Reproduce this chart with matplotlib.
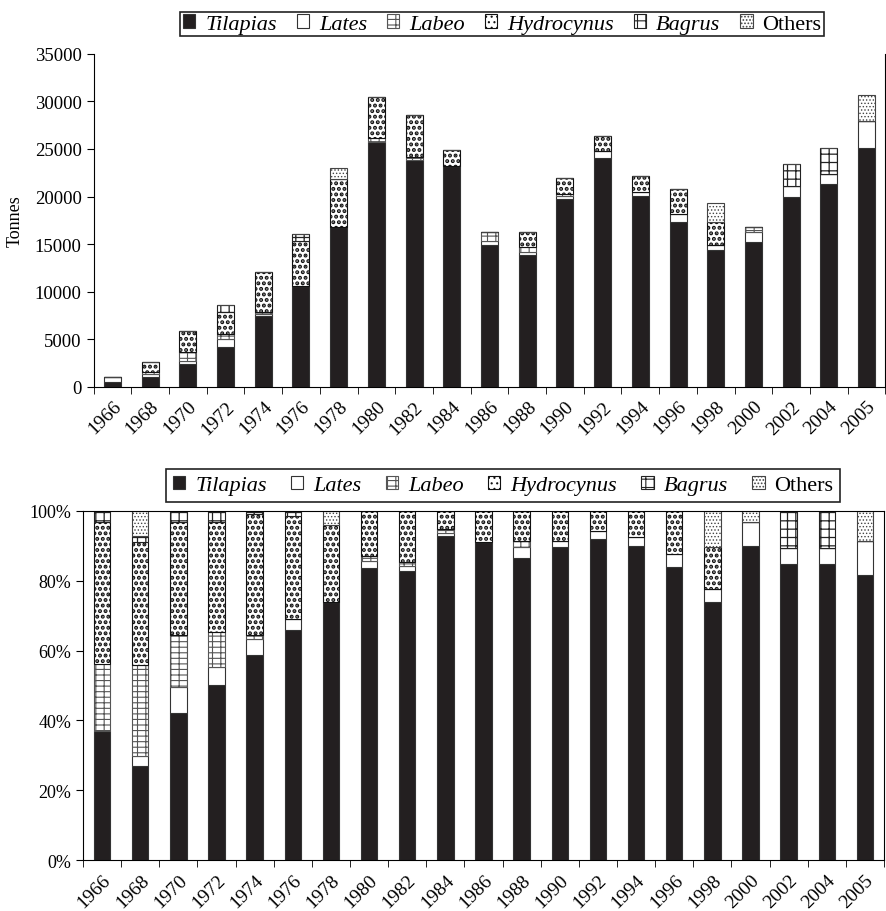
import matplotlib.pyplot as plt
import numpy as np

plt.rcParams['font.family'] = ['Liberation Serif', 'DejaVu Serif']
plt.rcParams['hatch.linewidth'] = 0.8

years = ['1966', '1968', '1970', '1972', '1974', '1976', '1978', '1980', '1982', '1984',
         '1986', '1988', '1990', '1992', '1994', '1996', '1998', '2000', '2002', '2004', '2005']
species = ['Tilapias', 'Lates', 'Labeo', 'Hydrocynus', 'Bagrus', 'Others']

# catch in tonnes
tilapias_t = [490, 1050, 2370, 4190, 7460, 10610, 16760, 25710, 23840, 23190, 14930,
              13880, 19740, 24030, 20030, 17290, 14370, 15180, 19990, 21320, 25110]
lates_t = [530, 250, 350, 810, 175, 0, 0, 0, 0, 0, 420,
           250, 280, 810, 490, 880, 530, 1050, 1090, 1050, 2880]
labeo_t = [0, 200, 880, 530, 175, 0, 0, 420, 350, 0, 890,
           530, 250, 0, 0, 0, 0, 530, 0, 0, 0]
hydrocynus_t = [0, 1080, 2210, 2280, 4280, 4740, 5090, 4310, 4400, 1710, 0,
                1580, 1650, 1570, 1610, 2630, 2390, 0, 0, 0, 0]
bagrus_t = [0, 0, 0, 770, 0, 680, 0, 0, 0, 0, 0,
            0, 0, 0, 0, 0, 0, 0, 2350, 2710, 0]
others_t = [0, 0, 0, 0, 0, 0, 1130, 0, 0, 0, 0,
            0, 0, 0, 0, 0, 2000, 0, 0, 0, 2740]

# share of the catch, %
tilapias_p = [37.0, 27.0, 42.1, 50.1, 58.7, 66.0, 73.8, 83.6, 82.9, 92.9, 91.0,
              86.4, 89.6, 92.0, 89.9, 83.9, 73.8, 89.9, 84.8, 84.8, 81.7]
lates_p = [0, 2.8, 7.4, 5.1, 4.6, 3.1, 0, 2.2, 1.4, 0.8, 0,
           3.2, 1.9, 2.4, 2.6, 3.8, 3.9, 6.9, 4.5, 4.5, 9.8]
labeo_p = [19.2, 26.1, 15.0, 10.0, 1.2, 0, 0, 1.4, 1.0, 1.1, 0,
           1.9, 0, 0, 0, 0, 0, 0, 0, 0, 0]
hydrocynus_p = [40.6, 35.1, 32.3, 31.6, 34.6, 29.6, 22.3, 12.8, 14.7, 5.2, 9.0,
                8.5, 8.5, 5.6, 7.5, 12.3, 11.9, 0, 0, 0, 0]
bagrus_p = [3.2, 1.7, 3.2, 3.2, 0.9, 1.3, 0, 0, 0, 0, 0,
            0, 0, 0, 0, 0, 0, 0, 10.7, 10.7, 0]
others_p = [0, 7.3, 0, 0, 0, 0, 3.9, 0, 0, 0, 0,
            0, 0, 0, 0, 0, 10.4, 3.2, 0, 0, 8.5]

# fill, hatch, edge colour, hatch line width for each species
styles = [
    ('#231f20', None, '#333333', 0.8),
    ('white', None, '#333333', 0.8),
    ('white', '---||', '#555555', 0.8),
    ('white', '...', '#111111', 2.0),
    ('white', '--||', '#222222', 0.9),
    ('white', '.....', '#444444', 0.6),
]


def draw_stack(ax, series, width):
    x = np.arange(len(years))
    bottom = np.zeros(len(years))
    for name, vals, (fc, hatch, ec, hlw) in zip(species, series, styles):
        vals = np.array(vals, dtype=float)
        bars = ax.bar(x, vals, width, bottom=bottom, color=fc, edgecolor=ec,
                      hatch=hatch, linewidth=0.8, label=name, zorder=2)
        for b in bars:
            if hasattr(b, 'set_hatch_linewidth'):
                b.set_hatch_linewidth(hlw)
        bottom += vals
    ax.set_xlim(-0.5, len(years) - 0.5)
    ax.set_xticks(x)
    ax.set_xticklabels(years, rotation=45, ha='right', rotation_mode='anchor', fontsize=14)
    ax.set_xticks(np.arange(-0.5, len(years), 1), minor=True)
    ax.tick_params(axis='x', which='major', length=0, pad=8)
    ax.tick_params(axis='x', which='minor', length=5, direction='out')
    ax.tick_params(axis='y', length=5, direction='out')


def add_legend(ax, anchor, pad, colsp):
    leg = ax.legend(loc='center', bbox_to_anchor=anchor, bbox_transform=fig.transFigure,
                    ncol=6, fontsize=16, handlelength=0.55, handleheight=0.55,
                    handletextpad=0.45, columnspacing=colsp, borderpad=pad,
                    fancybox=False, framealpha=1, edgecolor='#222222')
    leg.get_frame().set_linewidth(1.2)
    for t in leg.get_texts():
        if t.get_text() != 'Others':
            t.set_fontstyle('italic')


fig = plt.figure(figsize=(8.86, 9.12), dpi=100)

ax1 = fig.add_axes([0.1056, 0.5751, 0.8938, 0.3646])
draw_stack(ax1, [tilapias_t, lates_t, labeo_t, hydrocynus_t, bagrus_t, others_t], 0.45)
ax1.set_ylim(0, 35000)
ax1.set_yticks(np.arange(0, 35001, 5000))
ax1.spines['top'].set_visible(False)
ax1.set_ylabel('Tonnes', fontsize=13, labelpad=8)
ax1.tick_params(axis='y', labelsize=13.5)
add_legend(ax1, (0.567, 0.9726), 0.12, 0.9)

ax2 = fig.add_axes([0.0937, 0.0559, 0.9041, 0.3827])
draw_stack(ax2, [tilapias_p, lates_p, labeo_p, hydrocynus_p, bagrus_p, others_p], 0.43)
ax2.set_ylim(0, 100)
ax2.set_yticks(np.arange(0, 101, 20))
ax2.set_yticklabels([f'{v}%' for v in range(0, 101, 20)])
ax2.tick_params(axis='y', labelsize=13)
add_legend(ax2, (0.568, 0.4666), 0.3, 1.1)

fig.savefig('out.png', dpi=100)
